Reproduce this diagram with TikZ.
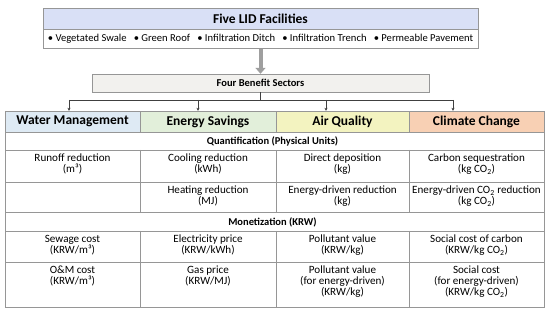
\documentclass[tikz,border=0pt]{standalone}
\usepackage{fontspec}
\setmainfont{Carlito}
\usepackage{tikz}
\usetikzlibrary{arrows.meta,positioning}

\definecolor{lidblue}{RGB}{217,224,246}
\definecolor{sectorgray}{RGB}{242,241,238}
\definecolor{waterblue}{RGB}{222,234,244}
\definecolor{energygreen}{RGB}{226,239,218}
\definecolor{airyellow}{RGB}{243,243,192}
\definecolor{climateorange}{RGB}{248,208,180}
\definecolor{gridgray}{RGB}{150,150,150}

\begin{document}
\begin{tikzpicture}[
    x=1pt, y=-1pt,
    box/.style={rectangle, draw=gridgray, inner sep=0pt, align=center},
    titlebox/.style={box, fill=lidblue, minimum width=435pt, minimum height=21pt, font=\fontsize{13.5}{15}\selectfont\bfseries},
    listbox/.style={box, fill=white, minimum width=435pt, minimum height=19pt, font=\fontsize{10.6}{12}\selectfont},
    sectorbox/.style={box, fill=sectorgray, minimum width=337pt, minimum height=18pt, font=\fontsize{10.5}{12}\selectfont\bfseries},
    headbox/.style={box, minimum height=21pt, font=\fontsize{13.5}{15}\selectfont\bfseries},
    rowlabel/.style={inner sep=0pt, font=\fontsize{10.5}{12}\selectfont\bfseries},
    celltext/.style={anchor=north, inner sep=0pt, align=center, font=\fontsize{11.1}{10.8}\selectfont},
    grid/.style={draw=gridgray, line width=0.6pt},
    bigarrow/.style={-{Triangle[length=6pt, width=10pt]}, line width=4pt, draw=gray!75},
    arrow/.style={-{Stealth[length=3pt, width=3pt]}, draw=black!75, line width=0.5pt}
]
\useasboundingbox (0,0) rectangle (550,313);

% Row 1: LID facilities
\node[titlebox] (lid) at (260.5,18.5) {Five LID Facilities};
\node[listbox, below=0pt of lid] (lidlist) {\textbullet~Vegetated Swale~~~\textbullet~Green Roof~~~\textbullet~Infiltration Ditch~~~\textbullet~Infiltration Trench~~~\textbullet~Permeable Pavement};

% Row 2: Benefit sectors
\node[sectorbox] (sectors) at (260.5,83) {Four Benefit Sectors};
\draw[bigarrow] (lidlist) -- (sectors);

% Row 3: Sector headers
\node[headbox, fill=waterblue, minimum width=135pt] (water) at (72.5,121.5) {Water Management};
\node[headbox, fill=energygreen, minimum width=136pt] (energy) at (208,121.5) {Energy Savings};
\node[headbox, fill=airyellow, minimum width=133pt] (air) at (342.5,121.5) {Air Quality};
\node[headbox, fill=climateorange, minimum width=135pt] (climate) at (476.5,121.5) {Climate Change};

% Branches
\coordinate (branch) at (260.5,100);
\coordinate (b1) at (69,100);
\coordinate (b2) at (198,100);
\coordinate (b3) at (326,100);
\coordinate (b4) at (453,100);
\draw[draw=black!75, line width=0.5pt] (sectors) -- (branch);
\draw[draw=black!75, line width=0.5pt] (b1) -- (b4);
\draw[arrow] (b1) -- (b1 |- water.north);
\draw[arrow] (b2) -- (b2 |- energy.north);
\draw[arrow] (b3) -- (b3 |- air.north);
\draw[arrow] (b4) -- (b4 |- climate.north);

% Table grid
\draw[grid] (5,111) rectangle (544,307);
\foreach \y in {150,182,212,231,262}
    \draw[grid] (5,\y) -- (544,\y);
\foreach \x in {140,276,409} {
    \draw[grid] (\x,150) -- (\x,212);
    \draw[grid] (\x,231) -- (\x,307);
}

% Quantification
\node[rowlabel] (quant) at (272.5,141) {Quantification (Physical Units)};
\node[celltext] (runoff) at (72.5,154) {Runoff reduction\\(m³)};
\node[celltext] (cooling) at (208,154) {Cooling reduction\\(kWh)};
\node[celltext] (heating) at (208,186) {Heating reduction\\(MJ)};
\node[celltext] (deposition) at (342.5,154) {Direct deposition\\(kg)};
\node[celltext] (airenergy) at (342.5,186) {Energy-driven reduction\\(kg)};
\node[celltext] (sequest) at (476.5,154) {Carbon sequestration\\(kg CO\textsubscript{2})};
\node[celltext] (co2energy) at (476.5,186) {Energy-driven CO\textsubscript{2} reduction\\(kg CO\textsubscript{2})};

% Monetization
\node[rowlabel] (money) at (272.5,222) {Monetization (KRW)};
\node[celltext] (sewage) at (72.5,235) {Sewage cost\\(KRW/m³)};
\node[celltext] (om) at (72.5,266) {O\&M cost\\(KRW/m³)};
\node[celltext] (elec) at (208,235) {Electricity price\\(KRW/kWh)};
\node[celltext] (gas) at (208,266) {Gas price\\(KRW/MJ)};
\node[celltext] (pollut) at (342.5,235) {Pollutant value\\(KRW/kg)};
\node[celltext] (pollutenergy) at (342.5,266) {Pollutant value\\(for energy-driven)\\(KRW/kg)};
\node[celltext] (scc) at (476.5,235) {Social cost of carbon\\(KRW/kg CO\textsubscript{2})};
\node[celltext] (sccenergy) at (476.5,266) {Social cost\\(for energy-driven)\\(KRW/kg CO\textsubscript{2})};

\end{tikzpicture}
\end{document}
